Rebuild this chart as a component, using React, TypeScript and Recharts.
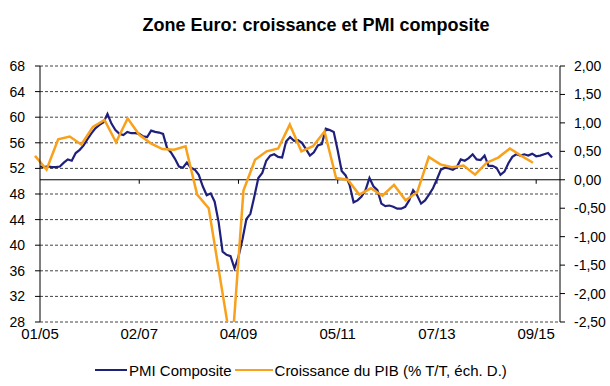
import React from 'react';
import { LineChart, Line, XAxis, YAxis, CartesianGrid, ReferenceLine, Legend } from 'recharts';

// PMI composite, monthly from 01/2005
const pmi = [
    52.3, 52.2, 52.3, 52.2, 52.2, 52.3, 52.9, 53.4, 53.2, 54.4,
    54.9, 55.6, 56.6, 57.5, 58.3, 58.8, 59.2, 60.5, 59.0, 58.0,
    57.4, 57.2, 57.7, 57.5, 57.5, 57.4, 57.0, 56.9, 57.9, 57.7,
    57.6, 57.4, 55.2, 54.5, 53.5, 52.3, 52.1, 52.9, 52.1, 51.8,
    51.0, 49.2, 47.8, 48.1, 46.8, 43.6, 39.0, 38.5, 38.3, 36.4,
    38.2, 40.9, 44.1, 44.9, 47.6, 50.5, 51.3, 53.2, 54.0, 54.2,
    53.8, 53.7, 56.2, 56.9, 56.3, 56.4, 56.0, 55.0, 54.0, 54.5,
    55.6, 55.8, 58.2, 58.0, 57.7, 54.8, 51.6, 50.9, 49.4, 46.7,
    47.0, 47.6, 48.6, 50.5, 49.2, 48.6, 46.5, 46.1, 46.2, 46.0,
    45.7, 45.7, 46.0, 47.0, 48.6, 47.8, 46.5, 47.0, 47.9, 48.9,
    50.3, 51.8, 52.1, 52.0, 51.8, 52.2, 53.4, 53.2, 53.6, 54.2,
    53.4, 53.3, 54.0, 52.4, 52.4, 52.1, 51.0, 51.5, 52.8, 53.8,
    54.2, 54.0, 54.2, 54.0, 54.3, 53.9, 54.0, 54.2, 54.4, 53.7,
];

// GDP growth q/q (%), quarterly from 2004 Q4 to 2015 Q3
const gdp = [
    0.42, 0.18, 0.71, 0.76, 0.62, 0.93, 1.05, 0.66, 1.08, 0.79,
    0.64, 0.54, 0.53, 0.59, -0.26, -0.5, -1.75, -3.0, -0.19, 0.35,
    0.5, 0.55, 0.97, 0.5, 0.59, 0.85, 0.03, 0.0, -0.26, -0.15,
    -0.28, -0.09, -0.36, -0.22, 0.4, 0.27, 0.22, 0.25, 0.09, 0.3,
    0.39, 0.55, 0.42, 0.3,
];

// bottom labels sit every 25 months from 01/05
const xLabels = ['01/05', '02/07', '04/09', '05/11', '07/13', '09/15'];
const xTicks = [0, 25, 50, 75, 100, 125];
const leftTicks = [28, 32, 36, 40, 44, 48, 52, 56, 60, 64, 68];
const rightTicks = [-2.5, -2, -1.5, -1, -0.5, 0, 0.5, 1, 1.5, 2];

const pmiData = pmi.map((v, i) => ({ m: i, v }));
const gdpData = gdp.map((v, q) => ({ q, v }));

const NAVY = '#1f1f7c';
const ORANGE = '#f9a11b';

const fmtRight = (v: number) => v.toFixed(2).replace('.', ',');

const renderLegend = () => (
    <div style={{ display: 'flex', alignItems: 'center', fontSize: 15, color: '#000', height: 18, whiteSpace: 'nowrap' }}>
        <span style={{ display: 'inline-block', width: 32, height: 2.5, background: NAVY, marginRight: 2 }} />
        <span style={{ marginRight: 3 }}>PMI Composite</span>
        <span style={{ display: 'inline-block', width: 38, height: 2.5, background: ORANGE, marginRight: 2 }} />
        <span>Croissance du PIB (% T/T, éch. D.)</span>
    </div>
);

export default function App() {
    return (
        <div style={{ position: 'absolute', left: 0, top: 0, width: 610, height: 386, background: '#fff', fontFamily: '"Liberation Sans", Arial, sans-serif' }}>
            <div style={{ position: 'absolute', top: 15, left: 0, width: 632, textAlign: 'center', fontSize: 18, fontWeight: 'bold', color: '#000' }}>
                Zone Euro: croissance et PMI composite
            </div>
            <LineChart width={610} height={386} margin={{ top: 66, right: 0, bottom: 34, left: 0 }}>
                <CartesianGrid xAxisId="m" yAxisId="l" vertical={false} stroke="#444" strokeDasharray="3 2" />
                <XAxis
                    xAxisId="m"
                    type="number"
                    dataKey="m"
                    domain={[0, 131]}
                    ticks={xTicks}
                    interval={0}
                    tickFormatter={(_v: number, i: number) => xLabels[i]}
                    axisLine={false}
                    tickLine={false}
                    tickSize={0}
                    tickMargin={6}
                    height={30}
                    tick={{ fill: '#000', fontSize: 15 }}
                />
                <XAxis xAxisId="q" type="number" dataKey="q" domain={[0, 43]} padding={{ left: -5, right: 27 }} hide />
                <YAxis
                    yAxisId="l"
                    domain={[28, 68]}
                    ticks={leftTicks}
                    interval={0}
                    width={40}
                    tickSize={5}
                    tickMargin={10}
                    axisLine={{ stroke: '#000' }}
                    tickLine={{ stroke: '#000' }}
                    tick={{ fill: '#000', fontSize: 14 }}
                />
                <YAxis
                    yAxisId="r"
                    orientation="right"
                    domain={[-2.5, 2]}
                    allowDataOverflow
                    ticks={rightTicks}
                    interval={0}
                    width={50}
                    tickSize={5}
                    tickMargin={9}
                    tickFormatter={fmtRight}
                    axisLine={{ stroke: '#000' }}
                    tickLine={{ stroke: '#000' }}
                    tick={{ fill: '#000', fontSize: 14, textAnchor: 'start' }}
                />
                <ReferenceLine xAxisId="m" yAxisId="r" y={0} stroke="#000" />
                {xTicks.slice(1).map(t => (
                    <ReferenceLine key={t} xAxisId="m" yAxisId="r" segment={[{ x: t, y: 0 }, { x: t, y: -0.07 }]} stroke="#000" />
                ))}
                <Line data={pmiData} xAxisId="m" yAxisId="l" dataKey="v" type="linear" stroke={NAVY} strokeWidth={2.2} dot={false} isAnimationActive={false} name="PMI Composite" />
                <Line data={gdpData} xAxisId="q" yAxisId="r" dataKey="v" type="linear" stroke={ORANGE} strokeWidth={2.5} dot={false} isAnimationActive={false} name="Croissance du PIB (% T/T, éch. D.)" />
                <Legend verticalAlign="middle" align="center" content={renderLegend} wrapperStyle={{ top: 361, left: 95, width: 420 }} />
            </LineChart>
        </div>
    );
}
